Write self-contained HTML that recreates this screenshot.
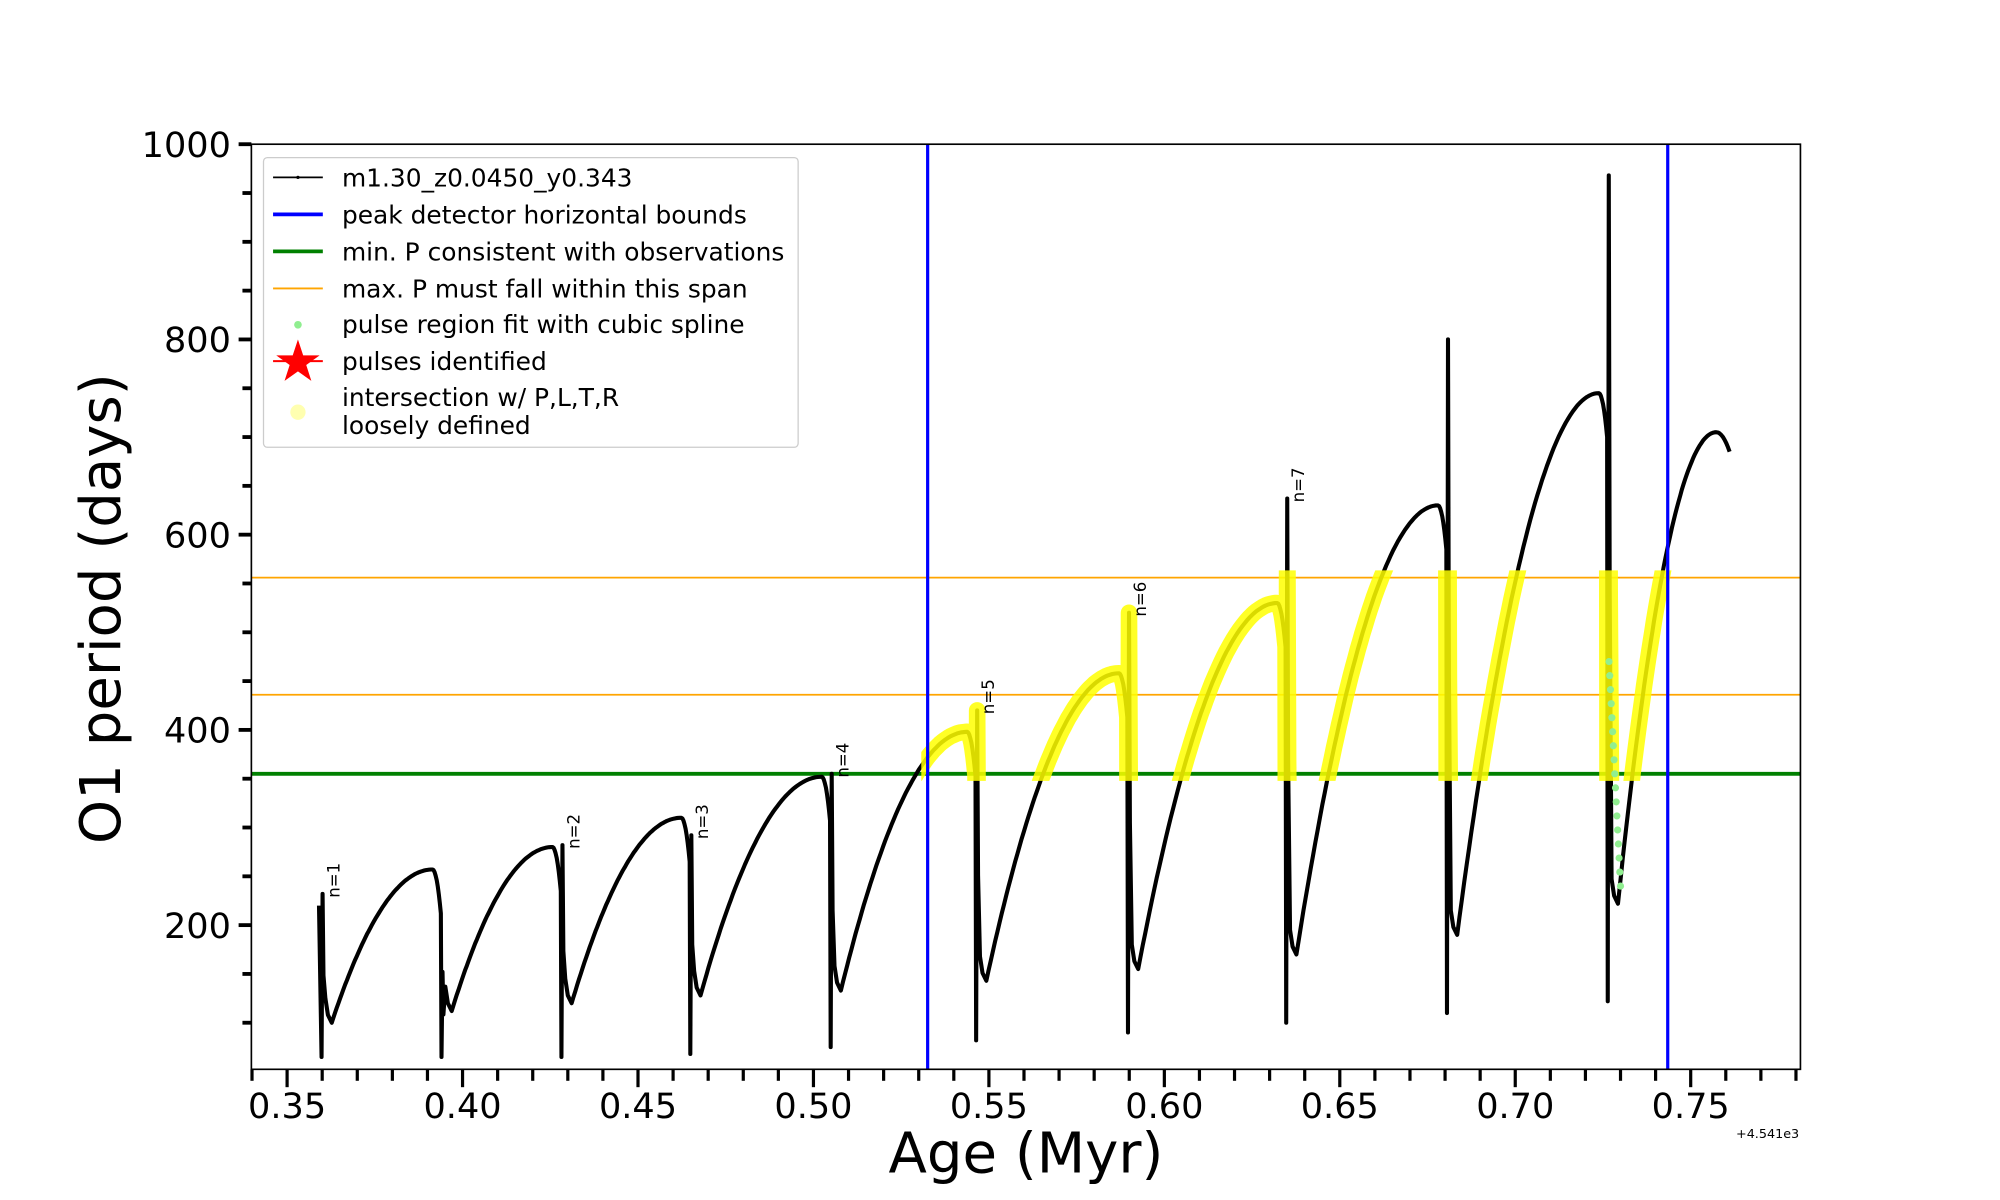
<!DOCTYPE html>
<html><head><meta charset="utf-8"><style>
html,body{margin:0;padding:0;background:#fff;}
svg{display:block;font-family:"DejaVu Sans","Liberation Sans",sans-serif;}
</style></head><body>
<svg id="s" width="2000" height="1200" viewBox="0 0 1567.4 940.4" xmlns="http://www.w3.org/2000/svg">
<rect x="0" y="0" width="1567.4" height="940.4" fill="#fff"/>
<defs><clipPath id="yc"><rect x="722" y="447" width="590" height="165"/></clipPath>
<clipPath id="ax"><rect x="197" y="113" width="1214" height="725"/></clipPath></defs>
<g id="plot" clip-path="url(#ax)"></g>
<rect x="197" y="113" width="1214" height="725" fill="none" stroke="#000" stroke-width="1.3"/>
<g id="ticks" stroke="#000"></g>
<g font-size="27.5" fill="#000">
<text x="181" y="123" text-anchor="end">1000</text>
<text x="181" y="276" text-anchor="end">800</text>
<text x="181" y="429" text-anchor="end">600</text>
<text x="181" y="582" text-anchor="end">400</text>
<text x="181" y="735" text-anchor="end">200</text>
<g text-anchor="middle" id="xl"></g>
</g>
<text x="1410" y="892" font-size="10" text-anchor="end">+4.541e3</text>
<text x="804" y="919" font-size="44" text-anchor="middle">Age (Myr)</text>
<text transform="translate(94,477) rotate(-90)" font-size="44" text-anchor="middle">O1 period (days)</text>
<g id="nl" font-size="13" fill="#000"></g>
<g>
<rect x="206.5" y="123.5" width="419" height="227" rx="3" fill="#fff" fill-opacity="0.85" stroke="#ccc"/>
<g stroke-width="2.5">
<line x1="214" y1="139" x2="253" y2="139" stroke="#000" stroke-width="1.3"/><circle cx="233.5" cy="139" r="1.3"/>
<line x1="214" y1="168" x2="253" y2="168" stroke="#0000ff" stroke-width="3"/>
<line x1="214" y1="197" x2="253" y2="197" stroke="#008000" stroke-width="3"/>
<line x1="214" y1="226" x2="253" y2="226" stroke="#ffa500" stroke-width="1.5"/>
</g>
<circle cx="233.5" cy="254.5" r="3" fill="#90ee90"/>
<line x1="214" y1="283" x2="253" y2="283" stroke="#ff0000" stroke-width="1.5"/>
<polygon fill="#ff0000" points="233.5,266 237.6,278.5 250.5,278.5 240,286 244,298.5 233.5,291 223,298.5 227,286 216.5,278.5 229.4,278.5"/>
<circle cx="233.5" cy="323" r="6" fill="#ffffb0"/>
<g font-size="19.5" fill="#000">
<text x="268" y="146">m1.30_z0.0450_y0.343</text>
<text x="268" y="175">peak detector horizontal bounds</text>
<text x="268" y="204">min. P consistent with observations</text>
<text x="268" y="233">max. P must fall within this span</text>
<text x="268" y="261">pulse region fit with cubic spline</text>
<text x="268" y="290">pulses identified</text>
<text x="268" y="318">intersection w/ P,L,T,R</text>
<text x="268" y="340">loosely defined</text>
</g></g>
</svg>
<script>
(function(){
var NS="http://www.w3.org/2000/svg";
function Y(P){return 113+(1000-P)*0.765;}
function X(a){return 225+(a-0.35)*2750;}
function el(t,a,p){var e=document.createElementNS(NS,t);for(var k in a)e.setAttribute(k,a[k]);(p||plot).appendChild(e);return e;}
var plot=document.getElementById('plot'),ticks=document.getElementById('ticks'),nl=document.getElementById('nl'),xl=document.getElementById('xl');
var s=[252,346,440,541,651,765,884,1008,1134,1260];
var T=[232,0,282,292,355,420,520,637,800,968];
var B=[65,65,65,68,75,82,90,100,110,122];
var mn=[100,112,120,128,133,143,155,170,190,222];
var mx=[257,280,310,352,398,458,530,630,745,705];
var pts=[[250,220]];
for(var i=0;i<s.length;i++){
  var x=s[i];
  pts.push([x,B[i]]);
  var top=T[i]||mn[i]+40;
  pts.push([x+0.8,top]);pts.push([x+1.5,(top+B[i])/2]);pts.push([x+3,mn[i]+25]);
  var xm=x+8, next=(i<s.length-1)?s[i+1]:1356, xp=(i<s.length-1)?next-7:1345;
  pts.push([x+5,mn[i]+8]);pts.push([xm,mn[i]]);
  var n=60;
  for(var k=1;k<=n;k++){var u=k/n;pts.push([xm+(xp-xm)*u,mn[i]+(mx[i]-mn[i])*(1-Math.pow(1-u,2.0))]);}
  var drop=(i<s.length-1)?45:20;
  for(var k=1;k<=8;k++){var u=k/8;pts.push([xp+(next-0.5-xp)*u,mx[i]-drop*u*u]);}
}
var d=pts.map(function(p,j){return (j?'L':'M')+p[0].toFixed(1)+' '+Y(p[1]).toFixed(1);}).join('');
el('line',{x1:197,x2:1411,y1:Y(556),y2:Y(556),stroke:'#ffa500','stroke-width':1.3});
el('line',{x1:197,x2:1411,y1:Y(436),y2:Y(436),stroke:'#ffa500','stroke-width':1.3});
el('line',{x1:197,x2:1411,y1:Y(355),y2:Y(355),stroke:'#008000','stroke-width':3});
el('path',{d:d,fill:'none',stroke:'#000','stroke-width':3.2,'stroke-linejoin':'round'});
el('path',{d:d,fill:'none',stroke:'#ffff00','stroke-opacity':0.85,'stroke-width':13,'stroke-linecap':'round','stroke-linejoin':'round','clip-path':'url(#yc)'});
for(var k=0;k<=16;k++){var u=k/16;el('circle',{cx:1261+9*u,cy:Y(470-230*u),r:2.8,fill:'#90ee90'});}
el('line',{x1:727,x2:727,y1:113,y2:838,stroke:'#0000ff','stroke-width':2.5});
el('line',{x1:1307,x2:1307,y1:113,y2:838,stroke:'#0000ff','stroke-width':2.5});
var li=[0,2,3,4,5,6,7];
for(var j=0;j<li.length;j++){var i=li[j];var x=s[i]+14,y=Y(T[i])+3;
  var t=el('text',{transform:'translate('+x+','+y+') rotate(-90)','text-anchor':'start'},nl);t.textContent='n='+(j+1);}
for(var P=100;P<=1000;P+=50){var y=Y(P),maj=(P%200==0);
  el('line',{x1:197-(maj?10:7),x2:197,y1:y,y2:y,'stroke-width':3},ticks);}
for(var k=34;k<=78;k++){var x=X(k/100),maj=(k%5==0);
  el('line',{x1:x,x2:x,y1:838,y2:838+(maj?14:9),'stroke-width':2.5},ticks);
  if(maj){var t=el('text',{x:x,y:876},xl);t.textContent=(k/100).toFixed(2);}}
})();
</script>
</body></html>
